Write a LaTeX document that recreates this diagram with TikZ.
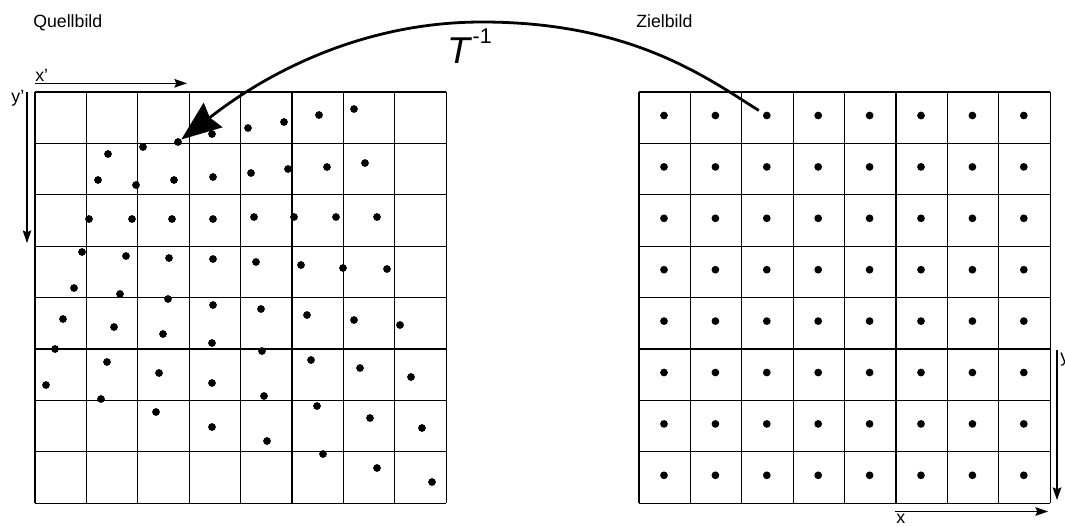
\documentclass[tikz,border=0pt]{standalone}
\usepackage{fontspec}
\setmainfont{Liberation Sans}
\usetikzlibrary{arrows.meta}

\tikzset{
  cell/.style={line width=1pt},
  dot/.style={circle, fill=black, inner sep=0pt, minimum size=5.8pt},
  lbl/.style={inner sep=0pt, font=\fontsize{13.3}{16}\selectfont},
  axis/.style={-{Stealth[length=9.5pt,width=6.5pt,inset=1.5pt]}, line width=0.8pt},
  backmap/.style={-{Stealth[length=30pt,width=23pt,inset=3pt]}, line width=2.1pt},
}

\begin{document}
\begin{tikzpicture}[x=0.75pt,y=-0.75pt]
\useasboundingbox (0,0) rectangle (1065,526);

% --- Gitter ---
\foreach \i in {0,...,8} {
  \draw[cell] ({35+51.4*\i},92) -- ({35+51.4*\i},503.2);
  \draw[cell] (35,{92+51.4*\i}) -- (446.2,{92+51.4*\i});
  \draw[cell] ({639+51.4*\i},92) -- ({639+51.4*\i},503.2);
  \draw[cell] (639,{92+51.4*\i}) -- (1050.2,{92+51.4*\i});
}

% --- Zielbild: Pixelmitten ---
\foreach \r in {1,...,8}
  \foreach \c in {1,...,8}
    \node[dot] (r-\r-\c) at ({664+51.4*(\c-1)},{115.5+51.4*(\r-1)}) {};

% --- Quellbild: verzerrte Punkte ---
\foreach \x/\y [count=\c] in {108/154,143/147,178/142,212/134,248/128,284/122,319/115,354/109}
  \node[dot] (l-1-\c) at (\x,\y) {};
\foreach \x/\y [count=\c] in {98/180,136/185,174/180,213/177,251/173,288/169,327/167,365/163}
  \node[dot] (l-2-\c) at (\x,\y) {};
\foreach \x/\y [count=\c] in {89/219,132/219,172/219,213/219,254/217,294/217,336/217,377/217}
  \node[dot] (l-3-\c) at (\x,\y) {};
\foreach \x/\y [count=\c] in {82/252,126/256,169/258,213/259,256/262,301/265,343/268,387/269}
  \node[dot] (l-4-\c) at (\x,\y) {};
\foreach \x/\y [count=\c] in {74/288,120/294,168/299,213/305,261/309,307/315,354/320,400/325}
  \node[dot] (l-5-\c) at (\x,\y) {};
\foreach \x/\y [count=\c] in {63/319,114/327,163/334,212/343,262/351,311/360,360/368,411/377}
  \node[dot] (l-6-\c) at (\x,\y) {};
\foreach \x/\y [count=\c] in {55/349,107/362,159/373,212/383,264/396,317/406,370/418,422/428}
  \node[dot] (l-7-\c) at (\x,\y) {};
\foreach \x/\y [count=\c] in {46/385,101/399,156/412,212/427,267/441,323/454,377/468,432/482}
  \node[dot] (l-8-\c) at (\x,\y) {};

% --- Achsen ---
\draw[axis] (35,83.3) -- (187,83.3);
\draw[axis] (27,92) -- (27,243);
\draw[axis] (1057,350) -- (1057,500);
\draw[axis] (895,511.5) -- (1048,511.5);

% --- Beschriftung ---
\node[lbl, anchor=base west] (quelle) at (33,27) {Quellbild};
\node[lbl, anchor=base west] (ziel) at (636,27) {Zielbild};
\node[lbl, anchor=base west] (xs) at (35,81) {x'};
\node[lbl, anchor=base east] (ys) at (24.5,102.5) {y'};
\node[lbl, anchor=base west] (xt) at (896,523.5) {x};
\node[lbl, anchor=base west] (yt) at (1060,362) {y};
\node[lbl, anchor=base west, font=\fontsize{28}{30}\selectfont\itshape] (tinv)
  at (447,63) {T\hspace{2pt}\raisebox{15pt}{\fontsize{16}{18}\selectfont\upshape -1}};

% --- Rueckabbildung ---
\coordinate (apex) at (482,22);
\draw[backmap, shorten <=4pt] (r-1-3) .. controls (707,78) and (632,22) .. (apex)
  .. controls (332,22) and (230,102) .. (l-1-3);

\end{tikzpicture}
\end{document}
